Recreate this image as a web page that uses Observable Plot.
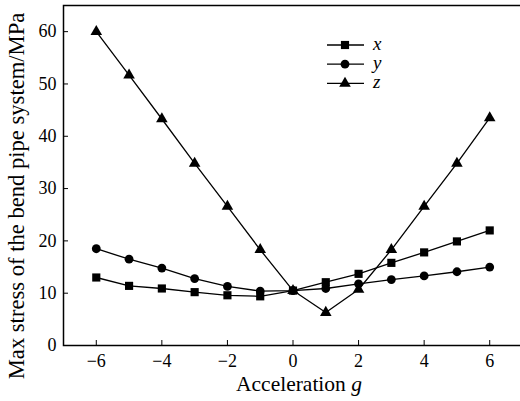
<!DOCTYPE html>
<html><head><meta charset="utf-8">
<script src="https://cdn.jsdelivr.net/npm/d3@7"></script>
<script src="https://cdn.jsdelivr.net/npm/@observablehq/plot@0.6"></script>
<style>
body{margin:0;background:#fff}
</style>
</head><body><div id="chart"></div>
<script>
const accel = [-6,-5,-4,-3,-2,-1,0,1,2,3,4,5,6];
const stressX = [13.0,11.4,10.9,10.2,9.6,9.4,10.5,12.1,13.7,15.8,17.8,19.9,22.0];
const stressY = [18.5,16.5,14.8,12.8,11.3,10.4,10.5,10.9,11.8,12.6,13.3,14.1,15.0];
const stressZ = [60.0,51.7,43.3,34.8,26.6,18.3,10.5,6.3,10.7,18.3,26.6,34.8,43.5];
const seriesNames = ["x","y","z"];
const xTicks = [-6,-4,-2,0,2,4,6];
const yTicks = [0,10,20,30,40,50,60];
const xLabel = "Acceleration ";
const xLabelVar = "g";
const yLabel = "Max stress of the bend pipe system/MPa";

const valuesBySeries = {x: stressX, y: stressY, z: stressZ};
const rows = seriesNames.flatMap(s => accel.map((g, i) => ({s, g, v: valuesBySeries[s][i]})));
const symbols = {x: "square", y: "circle", z: "triangle"};
const radii = {x: 4.6, y: 4.4, z: 4.3};
const serif = "Liberation Serif";

const plot = Plot.plot({
  width: 520, height: 401,
  marginLeft: 63, marginRight: -2, marginTop: 5, marginBottom: 56,
  style: {fontSize: "18px", color: "#000", background: "#fff"},
  x: {domain: [-7, 7]},
  y: {domain: [0, 65]},
  marks: [
    Plot.axisX({ticks: xTicks, tickSize: -5, tickPadding: 14, label: null, fontSize: 18,
      tickFormat: d => d < 0 ? "\u2212" + (-d) : String(d)}),
    Plot.axisY({ticks: yTicks, tickSize: -5, tickPadding: 12, label: null, fontSize: 18}),
    Plot.frame({stroke: "#000", strokeWidth: 1.5}),
    ...seriesNames.map(s => Plot.line(rows.filter(d => d.s === s), {x: "g", y: "v", stroke: "#000", strokeWidth: 1.3})),
    ...seriesNames.map(s => Plot.dot(rows.filter(d => d.s === s), {x: "g", y: "v", symbol: symbols[s], r: radii[s], fill: "#000", stroke: "none"}))
  ]
});

const svg = d3.select(plot);
// x label
const xl = svg.append("text").attr("x", 299).attr("y", 391).attr("text-anchor", "middle")
  .attr("font-size", 21.5).attr("fill", "#000");
xl.append("tspan").text(xLabel);
xl.append("tspan").attr("font-style", "italic").text(xLabelVar);
// y label
svg.append("text").attr("transform", "translate(24,196) rotate(-90)").attr("text-anchor", "middle")
  .attr("font-size", 22.6).attr("fill", "#000").text(yLabel);
// legend
const leg = svg.append("g");
seriesNames.forEach((s, i) => {
  const cy = 45 + i * 19.2;
  leg.append("line").attr("x1", 327).attr("x2", 364).attr("y1", cy).attr("y2", cy).attr("stroke", "#000").attr("stroke-width", 1.3);
  const sym = {square: d3.symbolSquare, circle: d3.symbolCircle, triangle: d3.symbolTriangle}[symbols[s]];
  leg.append("path").attr("transform", `translate(345,${cy})`).attr("d", d3.symbol(sym, Math.PI * radii[s] * radii[s])()).attr("fill", "#000");
  leg.append("text").attr("x", 373).attr("y", cy + 5).attr("font-size", 19).attr("font-style", "italic").attr("text-anchor", "start").attr("fill", "#000").text(s);
});
svg.attr("font-family", serif).style("font-family", serif);
svg.selectAll("text").attr("font-family", serif).style("font-family", serif);
document.getElementById("chart").appendChild(plot);
</script>
</body></html>
